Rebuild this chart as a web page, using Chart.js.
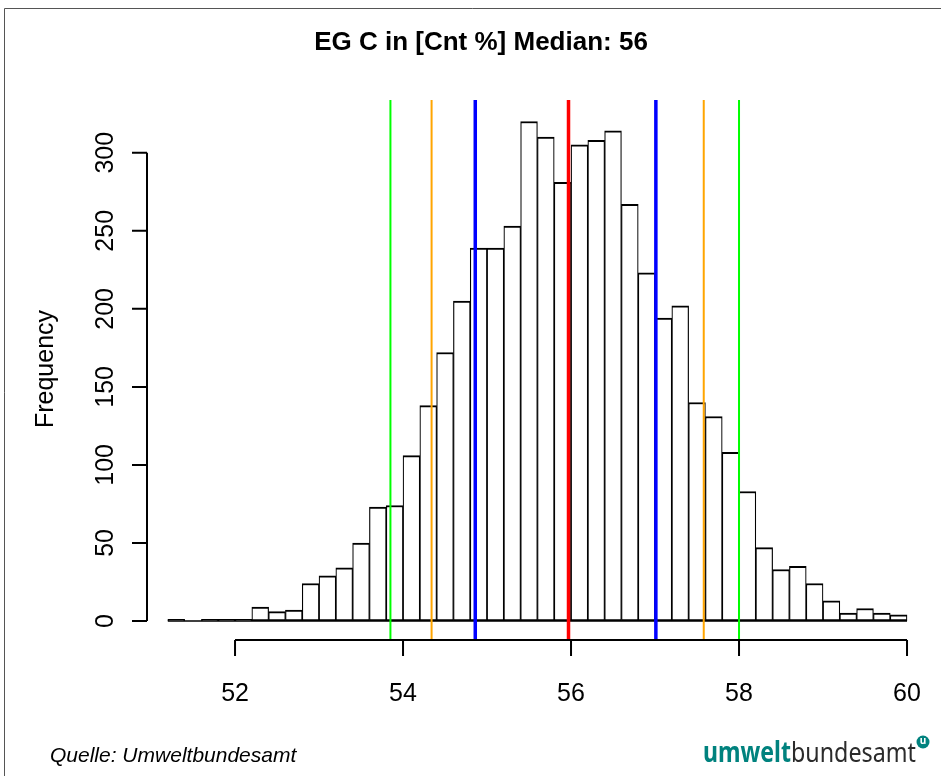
<!DOCTYPE html>
<html>
<head>
<meta charset="utf-8">
<script src="https://cdn.jsdelivr.net/npm/chart.js@4.4.1/dist/chart.umd.min.js"></script>
<style>
  html, body { margin: 0; padding: 0; background: #fff; }
  canvas { display: block; }
</style>
</head>
<body>
<canvas id="hist" width="941" height="776"></canvas>
<script>
// histogram bins (mid points, width 0.2) and their counts
const binMids = [51.3, 51.5, 51.7, 51.9, 52.1, 52.3, 52.5, 52.7, 52.9, 53.1, 53.3,
  53.5, 53.7, 53.9, 54.1, 54.3, 54.5, 54.7, 54.9, 55.1, 55.3, 55.5, 55.7, 55.9,
  56.1, 56.3, 56.5, 56.7, 56.9, 57.1, 57.3, 57.5, 57.7, 57.9, 58.1, 58.3, 58.5,
  58.7, 58.9, 59.1, 59.3, 59.5, 59.7, 59.9];
const counts = [1, 0, 1, 1, 1, 9, 6, 7, 24, 29, 34,
  50, 73, 74, 106, 138, 172, 205, 239, 239, 253, 320, 310, 281,
  305, 308, 314, 267, 223, 194, 202, 140, 131, 108, 83, 47, 33,
  35, 24, 13, 5, 8, 5, 4];

// vertical reference lines (quantiles and median)
const refLines = [53.85, 54.34, 54.86, 55.97, 57.01, 57.58, 58.0];
const refStyles = [
  { color: "#00ff00", width: 2 },
  { color: "#ffa500", width: 2 },
  { color: "#0000ff", width: 3.5 },
  { color: "#ff0000", width: 3.5 },
  { color: "#0000ff", width: 3.5 },
  { color: "#ffa500", width: 2 },
  { color: "#00ff00", width: 2 },
];

const xTicks = [52, 54, 56, 58, 60];
const yTicks = [0, 50, 100, 150, 200, 250, 300];

const titleText = "EG C in [Cnt %] Median: 56";
const yLabel = "Frequency";
const sourceText = "Quelle: Umweltbundesamt";

// R style axes, title and footer drawn on top of the chart
const basePlot = {
  id: "basePlot",
  beforeDraw(chart) {
    const c = chart.ctx;
    c.save();
    c.fillStyle = "#fff";
    c.fillRect(0, 0, chart.width, chart.height);
    c.restore();
  },
  afterDatasetsDraw(chart) {
    const c = chart.ctx;
    const xs = chart.scales.x;
    const ys = chart.scales.y;
    const area = chart.chartArea;
    c.save();

    // baseline under all bins
    c.strokeStyle = "#000";
    c.lineWidth = 1.5;
    c.beginPath();
    c.moveTo(xs.getPixelForValue(binMids[0] - 0.1), ys.getPixelForValue(0));
    c.lineTo(xs.getPixelForValue(binMids[binMids.length - 1] + 0.1), ys.getPixelForValue(0));
    c.stroke();

    // reference lines
    refLines.forEach((v, i) => {
      const px = xs.getPixelForValue(v);
      c.strokeStyle = refStyles[i].color;
      c.lineWidth = refStyles[i].width;
      c.beginPath();
      c.moveTo(px, area.top);
      c.lineTo(px, area.bottom);
      c.stroke();
    });

    c.strokeStyle = "#000";
    c.fillStyle = "#000";
    c.lineWidth = 2;
    c.lineCap = "butt";

    // x axis
    const xAxisY = area.bottom;
    c.beginPath();
    c.moveTo(xs.getPixelForValue(xTicks[0]), xAxisY);
    c.lineTo(xs.getPixelForValue(xTicks[xTicks.length - 1]), xAxisY);
    xTicks.forEach(t => {
      const px = xs.getPixelForValue(t);
      c.moveTo(px, xAxisY);
      c.lineTo(px, xAxisY + 16);
    });
    c.stroke();
    c.font = "25px 'Liberation Sans', Arial, sans-serif";
    c.textAlign = "center";
    c.textBaseline = "alphabetic";
    xTicks.forEach(t => {
      c.fillText(String(t), xs.getPixelForValue(t), 701);
    });

    // y axis
    const yAxisX = area.left;
    c.beginPath();
    c.moveTo(yAxisX, ys.getPixelForValue(yTicks[0]));
    c.lineTo(yAxisX, ys.getPixelForValue(yTicks[yTicks.length - 1]));
    yTicks.forEach(t => {
      const py = ys.getPixelForValue(t);
      c.moveTo(yAxisX, py);
      c.lineTo(yAxisX - 15, py);
    });
    c.stroke();
    yTicks.forEach(t => {
      c.save();
      c.translate(113, ys.getPixelForValue(t));
      c.rotate(-Math.PI / 2);
      c.fillText(String(t), 0, 0);
      c.restore();
    });

    // y label
    c.save();
    c.translate(53, 369);
    c.rotate(-Math.PI / 2);
    c.fillText(yLabel, 0, 0);
    c.restore();

    // title
    c.font = "bold 26px 'Liberation Sans', Arial, sans-serif";
    c.fillText(titleText, 481, 50);

    // source
    c.textAlign = "left";
    c.font = "italic 21px 'Liberation Sans', Arial, sans-serif";
    c.fillText(sourceText, 50, 762);

    // logo
    const teal = "#00827e";
    c.font = "bold 28px 'Noto Sans', sans-serif";
    let w1 = c.measureText("umwelt").width;
    c.save();
    c.translate(703, 762);
    c.scale(88 / w1, 1);
    c.fillStyle = teal;
    c.fillText("umwelt", 0, 0);
    c.restore();
    c.font = "28px 'Noto Sans', sans-serif";
    let w2 = c.measureText("bundesamt").width;
    c.save();
    c.translate(791, 762);
    c.scale(125 / w2, 1);
    c.fillStyle = "#2b2b2b";
    c.fillText("bundesamt", 0, 0);
    c.restore();
    c.fillStyle = teal;
    c.beginPath();
    c.arc(923, 742, 6.5, 0, Math.PI * 2);
    c.fill();
    c.fillStyle = "#fff";
    c.font = "bold 10px 'Noto Sans', sans-serif";
    c.textAlign = "center";
    c.textBaseline = "middle";
    c.fillText("u", 923, 741.5);

    // frame
    c.strokeStyle = "#555";
    c.lineWidth = 1;
    c.beginPath();
    c.moveTo(4.5, chart.height);
    c.lineTo(4.5, 8.5);
    c.lineTo(chart.width, 8.5);
    c.stroke();

    c.restore();
  }
};

const ctx = document.getElementById("hist").getContext("2d");

const histChart = new Chart(ctx, {
  type: "bar",
  data: {
    datasets: [
      {
        label: "Frequency",
        data: binMids.map((x, i) => ({ x: x, y: counts[i] })),
        backgroundColor: "#ffffff",
        borderColor: "#000000",
        borderWidth: { top: 2, left: 1.2, right: 1.2, bottom: 2 },
        borderSkipped: false,
        barPercentage: 1,
        categoryPercentage: 1,
      },
    ],
  },
  options: {
    responsive: false,
    animation: false,
    devicePixelRatio: 1,
    layout: {
      padding: { left: 147, right: 5, top: 100, bottom: 136 },
    },
    scales: {
      x: { type: "linear", min: 50.952, max: 60.345, offset: false, display: false },
      y: { min: -12.17, max: 333.8, display: false },
    },
    plugins: {
      legend: { display: false },
      tooltip: { enabled: false },
      title: { display: false },
    },
  },
  plugins: [basePlot],
});
</script>
</body>
</html>
